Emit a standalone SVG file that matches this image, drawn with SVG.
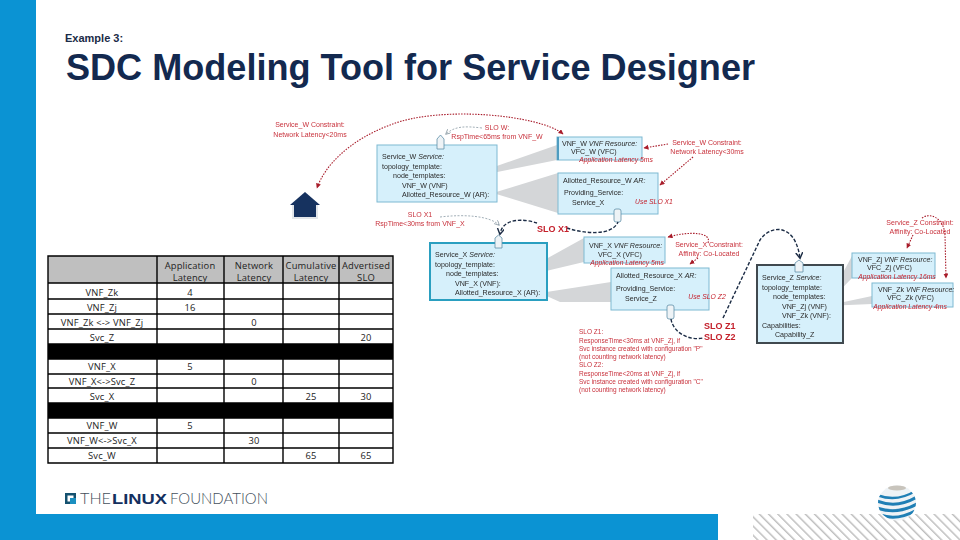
<svg xmlns="http://www.w3.org/2000/svg" width="960" height="540" viewBox="0 0 960 540">
<style>
text{font-family:"Liberation Sans",Arial,sans-serif}
.tb{font-family:"Open Sans","DejaVu Sans",sans-serif;font-size:9.4px;fill:#222;text-anchor:middle;letter-spacing:.15px}
.n{font-size:7.1px;fill:#2a2a2a}
.ni{font-style:italic}
.r{font-size:7px;fill:#c8323c;text-anchor:middle}
.ra{font-size:6.8px;fill:#c4202c;font-style:italic;text-anchor:middle}
.rb{font-size:9px;fill:#c4202c;font-weight:bold}
.rn{font-size:6.5px;fill:#c8323c}
.box{fill:#d6f0fb;stroke:#7fb9d2;stroke-width:1}
.tag{fill:#eef3f6;stroke:#5f8fa8;stroke-width:.8}
.wedge{fill:#d4d6d8}
.grid{stroke:#000;stroke-width:1.4;fill:none}
.rd{fill:none;stroke:#a81c2a;stroke-width:1.1;stroke-dasharray:1.5 1.3}
.gd{fill:none;stroke:#8a9aa4;stroke-width:.8;stroke-dasharray:2 1.5}
.nv{fill:none;stroke:#1b2c44;stroke-width:1.4;stroke-dasharray:3.5 1.8}
.thin{font-family:Lato,"Liberation Sans",sans-serif;font-weight:300;font-size:15.5px;fill:#44505c}
</style>
<defs>
<marker id="ar" markerWidth="6" markerHeight="6" refX="4.5" refY="2.5" orient="auto-start-reverse" markerUnits="userSpaceOnUse"><path d="M0,0L5,2.5L0,5Z" fill="#a81c2a"/></marker>
<marker id="ag" markerWidth="6" markerHeight="6" refX="4.5" refY="2.5" orient="auto" markerUnits="userSpaceOnUse"><path d="M0,0L5,2.5L0,5" fill="none" stroke="#8a9aa4" stroke-width=".8"/></marker>
<marker id="an" markerWidth="8" markerHeight="8" refX="5.5" refY="3.5" orient="auto" markerUnits="userSpaceOnUse"><path d="M0,0L6,3.5L0,7" fill="none" stroke="#1b2c44" stroke-width="1.4"/></marker>
<pattern id="hatch" width="6.5" height="6.5" patternUnits="userSpaceOnUse" patternTransform="rotate(45)"><rect width="6.5" height="6.5" fill="#fff"/><line x1="0" y1="2" x2="6.5" y2="2" stroke="#a8a8a8" stroke-width="1.1"/></pattern>
<clipPath id="gl"><ellipse cx="897" cy="503" rx="19" ry="17.500"/></clipPath>
<filter id="soft" x="-5%" y="-5%" width="110%" height="110%"><feGaussianBlur stdDeviation="0.3"/></filter>
</defs>
<rect width="960" height="540" fill="#fff"/>
<g id="frame">
<rect x="0" y="0" width="36" height="540" fill="#0b93d3"/>
<rect x="36" y="514" width="682" height="26" fill="#0b93d3"/>
<rect x="753" y="514" width="207" height="26" fill="url(#hatch)"/>
</g>
<g id="title">
<text x="65" y="42" font-size="11" font-weight="bold" fill="#1a2b47">Example 3:</text>
<text x="66" y="80" font-size="36" font-weight="bold" fill="#13294f" textLength="689" lengthAdjust="spacingAndGlyphs">SDC Modeling Tool for Service Designer</text>
</g>
<g id="table">
<rect x="48" y="256" width="345" height="27" fill="#bfbfbf"/>
<rect x="48" y="344" width="345" height="15" fill="#000"/>
<rect x="48" y="403" width="345" height="15" fill="#000"/>
<path class="grid" d="M48,256H393V463H48ZM157,256V463M224,256V463M283,256V463M339,256V463M48,283H393M48,299H393M48,314H393M48,329H393M48,344H393M48,359H393M48,374H393M48,388H393M48,403H393M48,418H393M48,433H393M48,448H393"/>
<text class="tb" x="190" y="269">Application</text><text class="tb" x="190" y="281">Latency</text>
<text class="tb" x="254" y="269">Network</text><text class="tb" x="254" y="281">Latency</text>
<text class="tb" x="311" y="269">Cumulative</text><text class="tb" x="311" y="281">Latency</text>
<text class="tb" x="366" y="269">Advertised</text><text class="tb" x="366" y="281">SLO</text>
<text class="tb" x="102" y="296">VNF_Zk</text><text class="tb" x="190" y="296">4</text>
<text class="tb" x="102" y="311">VNF_Zj</text><text class="tb" x="190" y="311">16</text>
<text class="tb" x="102" y="326">VNF_Zk &lt;-&gt; VNF_Zj</text><text class="tb" x="254" y="326">0</text>
<text class="tb" x="102" y="341">Svc_Z</text><text class="tb" x="366" y="341">20</text>
<text class="tb" x="102" y="370">VNF_X</text><text class="tb" x="190" y="370">5</text>
<text class="tb" x="102" y="385">VNF_X&lt;-&gt;Svc_Z</text><text class="tb" x="254" y="385">0</text>
<text class="tb" x="102" y="400">Svc_X</text><text class="tb" x="311" y="400">25</text><text class="tb" x="366" y="400">30</text>
<text class="tb" x="102" y="429">VNF_W</text><text class="tb" x="190" y="429">5</text>
<text class="tb" x="102" y="444">VNF_W&lt;-&gt;Svc_X</text><text class="tb" x="254" y="444">30</text>
<text class="tb" x="102" y="459">Svc_W</text><text class="tb" x="311" y="459">65</text><text class="tb" x="366" y="459">65</text>
</g>
<g id="diagram" filter="url(#soft)">
<g id="wedges">
<polygon class="wedge" points="457,180 557,145 557,160"/>
<polygon class="wedge" points="493,193 558,173 558,213"/>
<polygon class="wedge" points="508,280 584,238 584,262"/>
<polygon class="wedge" points="540,293 611,282 611,302 560,302"/>
<polygon class="wedge" points="825,306 852,256 852,278"/>
<polygon class="wedge" points="825,306 872,296 872,304"/>
</g>
<g id="house">
<rect x="292" y="205" width="26" height="14" fill="#e3e6ea"/>
<rect x="294" y="205" width="22" height="12" fill="#14305f"/>
<polygon points="305,192 290,205 320,205" fill="#14305f"/>
</g>
<g id="service-w">
<rect class="box" x="377" y="145" width="120" height="57"/>
<path class="tag" d="M437,149V139L440.500,135L444,139V149Z"/>
<text class="n" x="382" y="159">Service_W <tspan class="ni">Service:</tspan></text>
<text class="n" x="382" y="168.500">topology_template:</text>
<text class="n" x="393" y="178">node_templates:</text>
<text class="n" x="402" y="187.500">VNF_W (VNF)</text>
<text class="n" x="402" y="197">Allotted_Resource_W (AR):</text>
</g>
<g id="service-x">
<rect class="box" x="430" y="243" width="117" height="57" style="stroke:#2a9fc0;stroke-width:2"/>
<path class="tag" d="M495,248V238L498.500,235L502,238V248Z"/>
<text class="n" x="435" y="257">Service_X <tspan class="ni">Service:</tspan></text>
<text class="n" x="435" y="266.500">topology_template:</text>
<text class="n" x="446" y="276">node_templates:</text>
<text class="n" x="455" y="285.500">VNF_X (VNF):</text>
<text class="n" x="455" y="295">Allotted_Resource_X (AR):</text>
</g>
<g id="vnf-w">
<rect class="box" x="557" y="137" width="85" height="23"/>
<rect x="557" y="137" width="2" height="23" fill="#4f9cc0"/>
<text class="n" x="562" y="145.500">VNF_W <tspan class="ni">VNF Resource:</tspan></text>
<text class="n" x="571" y="153.500">VFC_W (VFC)</text>
<text class="ra" x="616" y="162">Application Latency 5ms</text>
</g>
<g id="allotted-w">
<rect class="box" x="558" y="173" width="100" height="41"/>
<rect x="614" y="209" width="7" height="13" rx="2" class="tag"/>
<text class="n" x="563" y="183">Allotted_Resource_W <tspan class="ni">AR:</tspan></text>
<text class="n" x="564" y="195">Providing_Service:</text>
<text class="n" x="572" y="205">Service_X</text>
<text class="ra" x="654" y="204">Use SLO X1</text>
</g>
<g id="vnf-x">
<rect class="box" x="584" y="237" width="81" height="26"/>
<text class="n" x="589" y="248">VNF_X <tspan class="ni">VNF Resource:</tspan></text>
<text class="n" x="598" y="257">VFC_X (VFC)</text>
<text class="ra" x="627" y="265">Application Latency 5ms</text>
</g>
<g id="allotted-x">
<rect class="box" x="611" y="268" width="98" height="42"/>
<rect x="667" y="305" width="7" height="14" rx="2" class="tag"/>
<text class="n" x="616" y="278">Allotted_Resource_X <tspan class="ni">AR:</tspan></text>
<text class="n" x="616" y="291">Providing_Service:</text>
<text class="n" x="625" y="301">Service_Z</text>
<text class="ra" x="707" y="299">Use SLO Z2</text>
</g>
<g id="service-z">
<rect class="box" x="757" y="265" width="86" height="78" style="stroke:#404850;stroke-width:2"/>
<path class="tag" d="M795,272V263L799,260L803,263V272Z"/>
<text class="n" x="762" y="280">Service_Z <tspan class="ni">Service:</tspan></text>
<text class="n" x="762" y="290">topology_template:</text>
<text class="n" x="773" y="299">node_templates:</text>
<text class="n" x="782" y="309">VNF_Zj (VNF)</text>
<text class="n" x="782" y="318">VNF_Zk (VNF):</text>
<text class="n" x="762" y="328">Capabilities:</text>
<text class="n" x="775" y="337">Capability_Z</text>
</g>
<g id="vnf-zj">
<rect class="box" x="852" y="253" width="83" height="25"/>
<text class="n" x="858" y="261.500">VNF_Zj <tspan class="ni">VNF Resource:</tspan></text>
<text class="n" x="867" y="270">VFC_Zj (VFC)</text>
<text class="ra" x="897" y="279">Application Latency 16ms</text>
</g>
<g id="vnf-zk">
<rect class="box" x="872" y="283" width="81" height="24"/>
<text class="n" x="878" y="291.500">VNF_Zk <tspan class="ni">VNF Resource:</tspan></text>
<text class="n" x="887" y="300">VFC_Zk (VFC)</text>
<text class="ra" x="910" y="309">Application Latency 4ms</text>
</g>
<g id="connectors">
<path class="rd" marker-start="url(#ar)" marker-end="url(#ar)" d="M563,134C540,115 440,105 390,125C350,140 325,165 317,188"/>
<path class="gd" marker-end="url(#ag)" d="M482,128C465,126 455,126 446,134"/>
<path class="gd" marker-end="url(#ag)" d="M440,217C465,214 490,216 499,225"/>
<path class="nv" marker-end="url(#an)" d="M537,223C525,219 503,217 500,234"/>
<path class="nv" d="M567,228C585,234 612,236 618,222"/>
<path class="rd" marker-end="url(#ar)" d="M668,144L644,148"/>
<path class="rd" marker-end="url(#ar)" d="M693,157L660,185"/>
<path class="rd" marker-end="url(#ar)" d="M708,243C712,232 690,231 668,237"/>
<path class="rd" marker-end="url(#ar)" d="M698,258L690,264"/>
<path class="nv" d="M671,319C673,332 688,341 703,338"/>
<path class="nv" marker-end="url(#an)" d="M723,318L760,240C770,225 795,222 800,258"/>
<path class="rd" marker-end="url(#ar)" d="M913,235L907,248"/>
<path class="rd" marker-end="url(#ar)" d="M922,218C930,212 944,218 945,235L946,278"/>
</g>
<g id="labels">
<text class="r" x="310" y="127">Service_W Constraint:</text>
<text class="r" x="310" y="137">Network Latency&lt;20ms</text>
<text class="r" x="497" y="130">SLO W:</text>
<text class="r" x="497" y="139">RspTime&lt;65ms from VNF_W</text>
<text class="r" x="420" y="217">SLO X1</text>
<text class="r" x="420" y="226">RspTime&lt;30ms from VNF_X</text>
<text class="rb" x="537" y="232">SLO X1</text>
<text class="r" x="707" y="145">Service_W Constraint:</text>
<text class="r" x="707" y="154">Network Latency&lt;30ms</text>
<text class="r" x="709" y="247">Service_X Constraint:</text>
<text class="r" x="709" y="256">Affinity: Co-Located</text>
<text class="r" x="920" y="225">Service_Z Constraint:</text>
<text class="r" x="920" y="234">Affinity: Co-Located</text>
<text class="rb" x="704" y="329">SLO Z1</text>
<text class="rb" x="704" y="340">SLO Z2</text>
<g id="slo-note">
<text class="rn" x="579" y="334">SLO Z1:</text>
<text class="rn" x="579" y="342.500">ResponseTime&lt;30ms at VNF_Zj, if</text>
<text class="rn" x="579" y="350.500">Svc instance created with configuration "P"</text>
<text class="rn" x="579" y="359">(not counting network latency)</text>
<text class="rn" x="579" y="367">SLO Z2:</text>
<text class="rn" x="579" y="375.500">ResponseTime&lt;20ms at VNF_Zj, if</text>
<text class="rn" x="579" y="383.500">Svc instance created with configuration "C"</text>
<text class="rn" x="579" y="392">(not counting network latency)</text>
</g>
</g>
</g>
<g id="linux-logo">
<rect x="65" y="493" width="11" height="11" fill="#14516f"/>
<rect x="67.500" y="495.500" width="6" height="6" fill="#fff"/>
<rect x="70" y="498" width="6" height="6" fill="#1b8fc0"/>
<text class="thin" x="80" y="504" textLength="31" lengthAdjust="spacingAndGlyphs">THE</text>
<text x="112" y="504" font-size="15.500" font-weight="bold" fill="#14305f" textLength="55" lengthAdjust="spacingAndGlyphs">LINUX</text>
<text class="thin" x="170" y="504" textLength="98" lengthAdjust="spacingAndGlyphs">FOUNDATION</text>
</g>
<g id="globe">
<ellipse cx="897" cy="503" rx="19" ry="17.500" fill="#eef3f6"/>
<ellipse cx="897" cy="488" rx="9" ry="2.500" fill="#c8c4bc"/>
<g clip-path="url(#gl)" fill="none" stroke="#1f7fb5">
<path stroke-width="2.500" d="M877,495Q897,503 917,490"/>
<path stroke-width="3" d="M877,501Q897,509 917,497"/>
<path stroke-width="3" d="M877,508Q897,515 917,504"/>
<path stroke-width="3" d="M880,515Q897,521 915,511"/>
</g>
</g>
</svg>
